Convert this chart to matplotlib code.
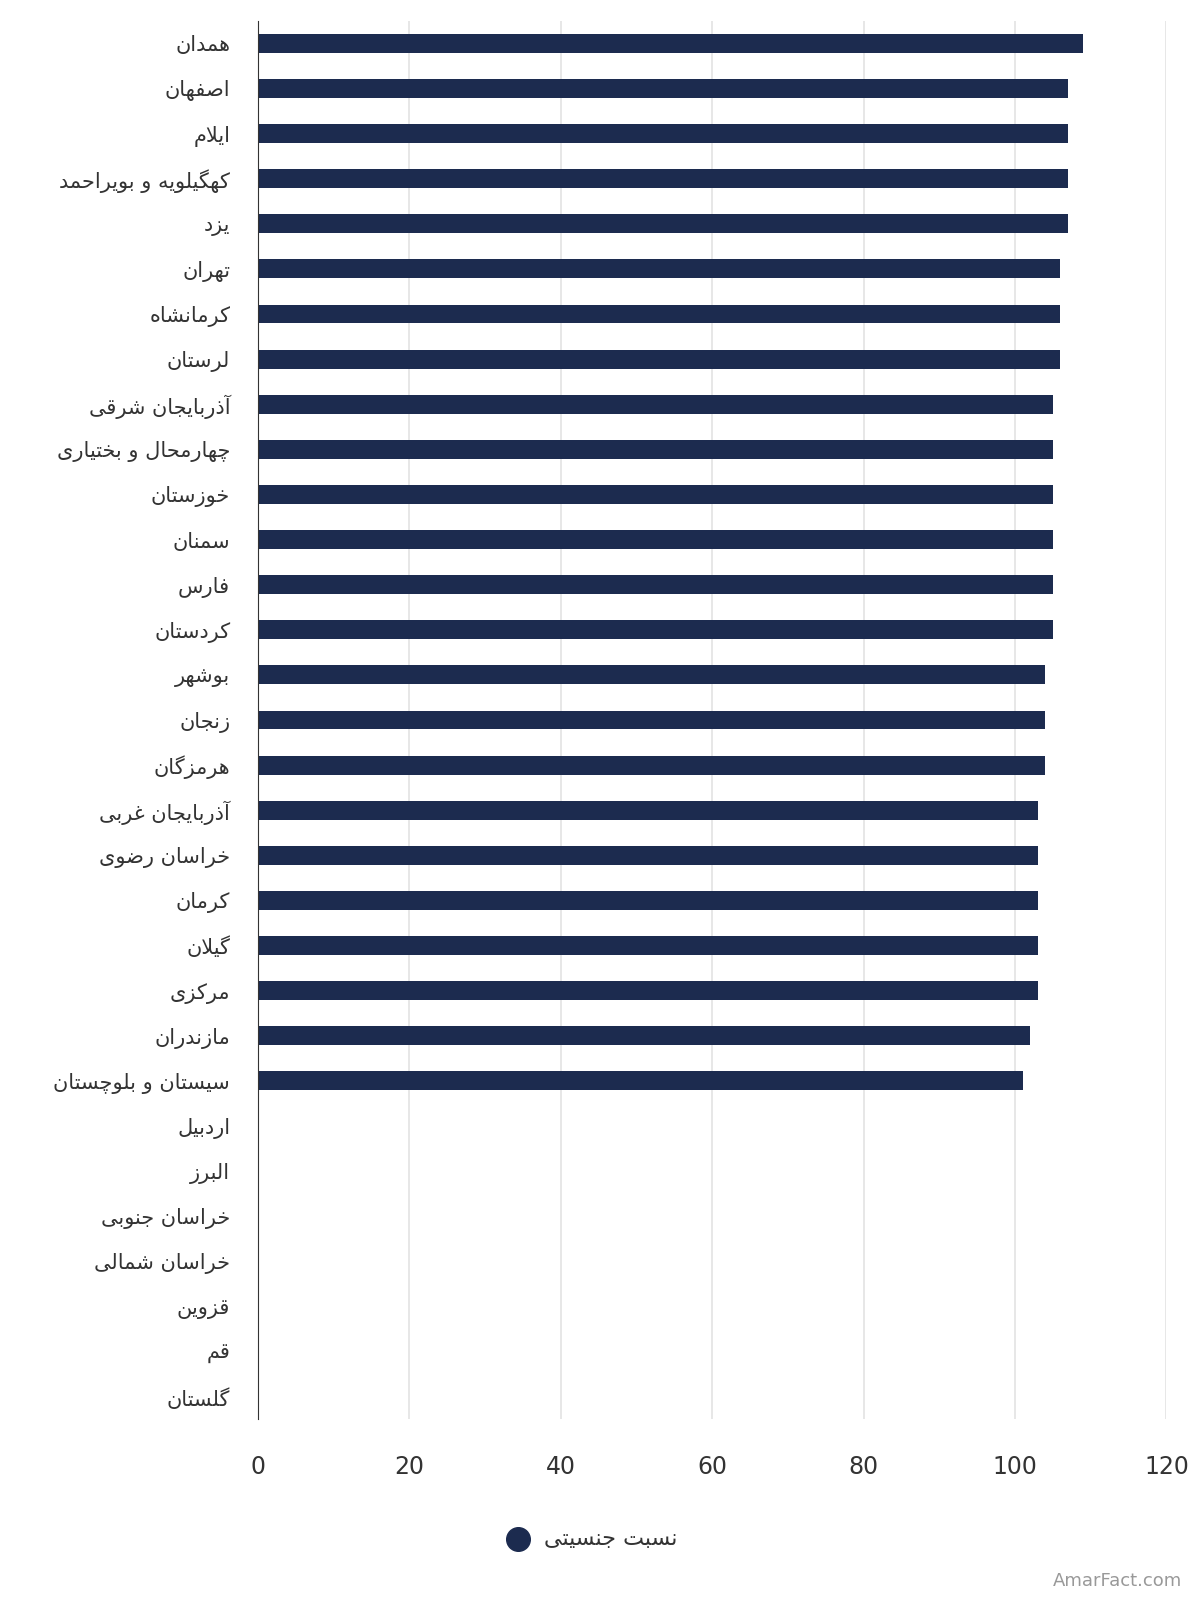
import matplotlib
matplotlib.use("Agg")
import matplotlib.pyplot as plt
import numpy as np

provinces = ["همدان","اصفهان","ایلام","کهگیلویه و بویراحمد","یزد","تهران","کرمانشاه","لرستان",
             "آذربایجان شرقی","چهارمحال و بختیاری","خوزستان","سمنان","فارس","کردستان","بوشهر","زنجان",
             "هرمزگان","آذربایجان غربی","خراسان رضوی","کرمان","گیلان","مرکزی","مازندران","سیستان و بلوچستان",
             "اردبیل","البرز","خراسان جنوبی","خراسان شمالی","قزوین","قم","گلستان"]
values = [109,107,107,107,107,106,106,106,105,105,105,105,105,105,104,104,104,103,103,103,103,103,102,101,
          np.nan,np.nan,np.nan,np.nan,np.nan,np.nan,np.nan]
series_name = "نسبت جنسیتی"
xticks = [0,20,40,60,80,100,120]

FORMS = {
 'ا':('\uFE8D','\uFE8E',None,None),'آ':('\uFE81','\uFE82',None,None),
 'ب':('\uFE8F','\uFE90','\uFE91','\uFE92'),'پ':('\uFB56','\uFB57','\uFB58','\uFB59'),
 'ت':('\uFE95','\uFE96','\uFE97','\uFE98'),'ث':('\uFE99','\uFE9A','\uFE9B','\uFE9C'),
 'ج':('\uFE9D','\uFE9E','\uFE9F','\uFEA0'),'چ':('\uFB7A','\uFB7B','\uFB7C','\uFB7D'),
 'ح':('\uFEA1','\uFEA2','\uFEA3','\uFEA4'),'خ':('\uFEA5','\uFEA6','\uFEA7','\uFEA8'),
 'د':('\uFEA9','\uFEAA',None,None),'ذ':('\uFEAB','\uFEAC',None,None),
 'ر':('\uFEAD','\uFEAE',None,None),'ز':('\uFEAF','\uFEB0',None,None),'ژ':('\uFB8A','\uFB8B',None,None),
 'س':('\uFEB1','\uFEB2','\uFEB3','\uFEB4'),'ش':('\uFEB5','\uFEB6','\uFEB7','\uFEB8'),
 'ص':('\uFEB9','\uFEBA','\uFEBB','\uFEBC'),'ض':('\uFEBD','\uFEBE','\uFEBF','\uFEC0'),
 'ط':('\uFEC1','\uFEC2','\uFEC3','\uFEC4'),'ظ':('\uFEC5','\uFEC6','\uFEC7','\uFEC8'),
 'ع':('\uFEC9','\uFECA','\uFECB','\uFECC'),'غ':('\uFECD','\uFECE','\uFECF','\uFED0'),
 'ف':('\uFED1','\uFED2','\uFED3','\uFED4'),'ق':('\uFED5','\uFED6','\uFED7','\uFED8'),
 'ک':('\uFB8E','\uFB8F','\uFB90','\uFB91'),'گ':('\uFB92','\uFB93','\uFB94','\uFB95'),
 'ل':('\uFEDD','\uFEDE','\uFEDF','\uFEE0'),'م':('\uFEE1','\uFEE2','\uFEE3','\uFEE4'),
 'ن':('\uFEE5','\uFEE6','\uFEE7','\uFEE8'),'و':('\uFEED','\uFEEE',None,None),
 'ه':('\uFEE9','\uFEEA','\uFEEB','\uFEEC'),'ی':('\uFBFC','\uFBFD','\uFBFE','\uFBFF'),
}

def shape(s):
    chars = []
    i = 0
    while i < len(s):
        c = s[i]
        if c == 'ل' and i+1 < len(s) and s[i+1] in 'اآ':
            chars.append('LA' if s[i+1]=='ا' else 'LAA'); i += 2
        else:
            chars.append(c); i += 1
    def joins_after(c):
        if c in ('LA','LAA'): return False
        return c in FORMS and FORMS[c][2] is not None
    def joins_before(c):
        return c in FORMS or c in ('LA','LAA')
    out = []
    for k, c in enumerate(chars):
        prev = chars[k-1] if k > 0 else None
        nxt = chars[k+1] if k+1 < len(chars) else None
        jp = prev is not None and joins_after(prev)
        jn = nxt is not None and joins_before(nxt) and joins_after(c)
        if c in ('LA','LAA'):
            iso, fin = ('\uFEFB','\uFEFC') if c=='LA' else ('\uFEF5','\uFEF6')
            out.append(fin if jp else iso)
        elif c in FORMS:
            f = FORMS[c]
            if jp and jn: out.append(f[3])
            elif jp: out.append(f[1])
            elif jn: out.append(f[2])
            else: out.append(f[0])
        else:
            out.append(c)
    return ''.join(out)[::-1]

plt.rcParams['font.family'] = ['DejaVu Sans']
fig = plt.figure(figsize=(12,16), dpi=100)
ax = fig.add_axes([0.215, 0.113, 0.757, 0.874])
y = np.arange(len(provinces))
ax.barh(y, np.nan_to_num(values), height=0.42, color='#1c2b4f', zorder=3)
ax.set_ylim(len(provinces)-0.5, -0.5)
ax.set_xlim(0,120)
ax.set_yticks(y)
ax.set_yticklabels([shape(p) for p in provinces], fontsize=15, color='#333333')
ax.set_xticks(xticks)
ax.set_xticklabels([str(t) for t in xticks], fontsize=17, color='#333333')
ax.tick_params(axis='both', length=0)
ax.tick_params(axis='y', pad=20)
ax.tick_params(axis='x', pad=26)
ax.grid(axis='x', color='#e3e3e3', linewidth=1.2, zorder=0)
for sp in ['top','right','bottom']:
    ax.spines[sp].set_visible(False)
ax.spines['left'].set_color('#333333')
ax.spines['left'].set_zorder(4)

fig.text(0.453, 0.038, shape(series_name), fontsize=16, color='#333333', ha='left', va='center')
fig.lines.append(plt.Line2D([0.432],[0.038], marker='o', markersize=17, color='#1c2b4f',
                            transform=fig.transFigure, figure=fig))
fig.text(0.985, 0.006, "AmarFact.com", fontsize=13, color='#999999', ha='right', va='bottom')
fig.savefig("out.png", dpi=100, facecolor='white')
